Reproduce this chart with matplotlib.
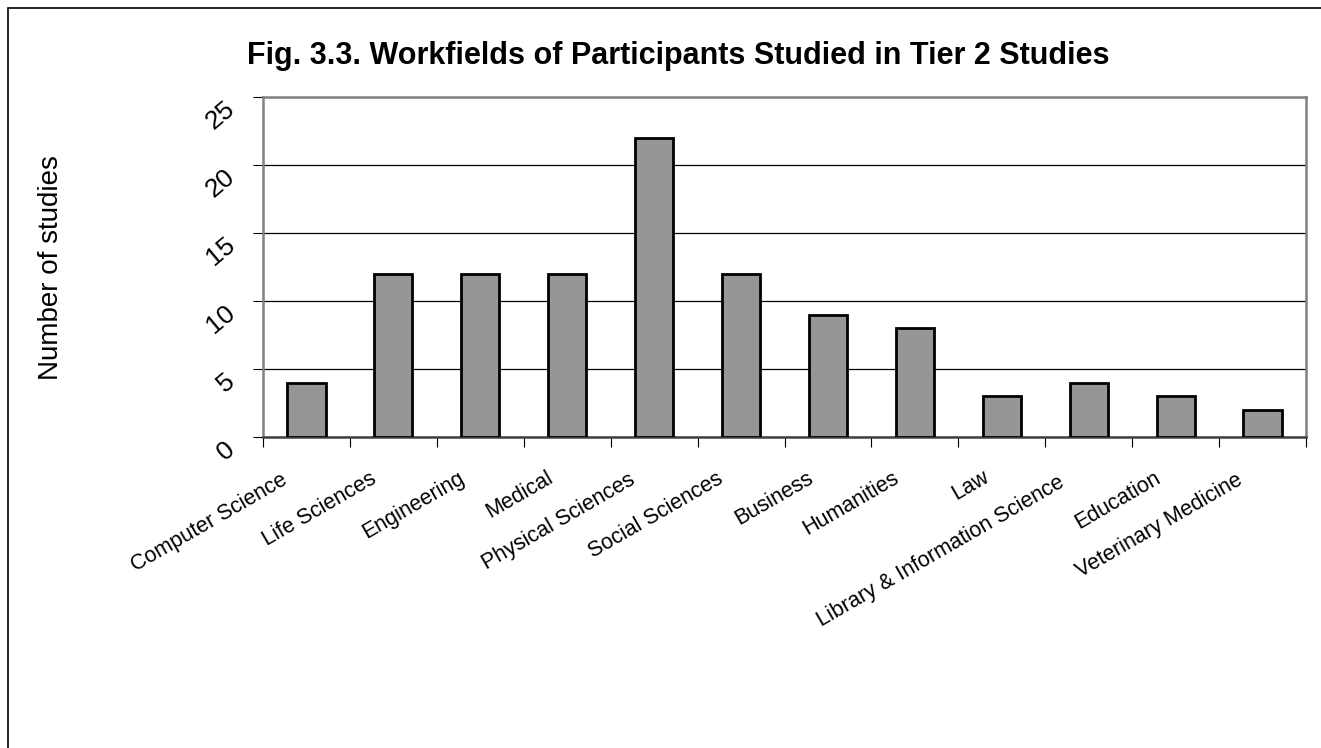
import matplotlib
matplotlib.use("Agg")
import matplotlib.pyplot as plt
from matplotlib.patches import Rectangle
from matplotlib.transforms import ScaledTranslation

categories = ["Computer Science", "Life Sciences", "Engineering", "Medical",
              "Physical Sciences", "Social Sciences", "Business", "Humanities",
              "Law", "Library & Information Science", "Education", "Veterinary Medicine"]
values = [4, 12, 12, 12, 22, 12, 9, 8, 3, 4, 3, 2]
yticks = [0, 5, 10, 15, 20, 25]

plt.rcParams['font.family'] = ['Liberation Sans', 'DejaVu Sans']

W, H = 1321, 748
DPI = 100
fig = plt.figure(figsize=(W/DPI, H/DPI), dpi=DPI)
fig.patches.append(Rectangle((8/W, -0.1), 1.2, (H-8)/H + 0.1, transform=fig.transFigure,
                             fill=False, edgecolor='black', linewidth=1.2))
ax = fig.add_axes([263/W, 1-437/H, (1306-263)/W, (437-97)/H])

x = list(range(len(categories)))
ax.bar(x, values, width=0.44, color='#969696', edgecolor='black', linewidth=2, zorder=3)
ax.set_xlim(-0.5, len(categories)-0.5)
ax.set_ylim(0, 25)
ax.set_yticks(yticks)
ax.set_yticklabels([str(t) for t in yticks], rotation=40, fontsize=19,
                   rotation_mode='anchor', ha='right', va='top')
ax.yaxis.grid(True, color='black', linewidth=0.9, zorder=1)
ax.set_xticks([i-0.5 for i in range(len(categories)+1)])
ax.set_xticklabels([])
ax.tick_params(axis='x', length=7, direction='out', color='black')
ax.tick_params(axis='y', length=7, direction='out', color='black', pad=21)
for s in ax.spines.values():
    s.set_color('#808080'); s.set_linewidth(1.8)
ax.spines['bottom'].set_color('#404040')

# category labels, rotated, placed below each category center
fig.canvas.draw()
renderer = fig.canvas.get_renderer()
LABEL_FS = 15.5
for xi, lab in zip(x, categories):
    tmp = fig.text(0, 0, lab, fontsize=LABEL_FS)
    L = tmp.get_window_extent(renderer).width
    tmp.remove()
    dx = -(17 + 0.05 * L) / DPI
    dy = -(28 + 0.025 * L) / DPI
    tr = ax.get_xaxis_transform() + ScaledTranslation(dx, dy, fig.dpi_scale_trans)
    ax.text(xi, 0, lab, transform=tr, fontsize=LABEL_FS, rotation=30,
            rotation_mode='anchor', ha='right', va='top', clip_on=False)

fig.text(51/W, 1-268/H, "Number of studies", rotation=90, ha='center', va='center',
         fontsize=20)
fig.text(678/W, 1-56/H, "Fig. 3.3. Workfields of Participants Studied in Tier 2 Studies",
         ha='center', va='center', fontsize=22, fontweight='bold')
fig.savefig("out.png", dpi=DPI)
